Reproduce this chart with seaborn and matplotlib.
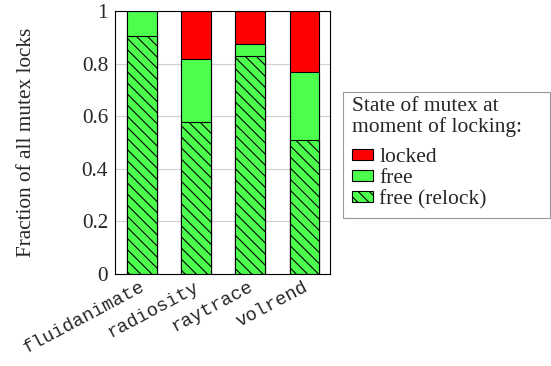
import matplotlib
matplotlib.use("Agg")
import matplotlib.pyplot as plt
import matplotlib.transforms as mtransforms
import seaborn as sns
import numpy as np
import pandas as pd
from matplotlib.patches import Patch, Rectangle

benchmarks = ["fluidanimate", "radiosity", "raytrace", "volrend"]
relock = [0.905, 0.577, 0.830, 0.508]
free = [0.095, 0.240, 0.046, 0.260]
locked = [0.0, 0.183, 0.124, 0.232]

RED = "#ff0000"
GREEN = "#4dff4d"
FS = 15.3

sns.set_style("white")
plt.rcParams["font.family"] = ["Liberation Serif", "DejaVu Serif"]
plt.rcParams["hatch.linewidth"] = 0.8

df = pd.DataFrame({"bench": benchmarks,
                   "relock": relock,
                   "free": free,
                   "locked": locked})
df["top_free"] = df["relock"] + df["free"]
df["top_locked"] = df["top_free"] + df["locked"]

fig = plt.figure(figsize=(5.51, 3.66), dpi=100)
ax = fig.add_axes([115 / 551, 1 - 274 / 366, 215 / 551, 263 / 366])

# stacked bars drawn back to front
sns.barplot(data=df, x="bench", y="top_locked", color=RED, width=0.55,
            edgecolor="black", linewidth=0.8, saturation=1, ax=ax)
sns.barplot(data=df, x="bench", y="top_free", color=GREEN, width=0.55,
            edgecolor="black", linewidth=0.8, saturation=1, ax=ax)
n = len(ax.patches)
sns.barplot(data=df, x="bench", y="relock", color=GREEN, width=0.55,
            edgecolor="black", linewidth=0.8, saturation=1, ax=ax)
for p in ax.patches[n:]:
    p.set_hatch("\\\\\\")

ax.set_ylim(0, 1)
ax.set_xlim(-0.49, 3.47)
ax.set_yticks([0, 0.2, 0.4, 0.6, 0.8, 1])
ax.set_yticklabels(["0", "0.2", "0.4", "0.6", "0.8", "1"], fontsize=FS)
ax.yaxis.grid(True, color="#d0d0d0", linewidth=0.8)
ax.set_axisbelow(True)
ax.tick_params(axis="y", length=0, pad=5)
ax.tick_params(axis="x", length=0, pad=3)
ax.set_xticks(range(len(benchmarks)))
ax.set_xticklabels(benchmarks, rotation=28, ha="right", rotation_mode="anchor",
                   family="Liberation Mono", fontsize=13.5)
shift = mtransforms.ScaledTranslation(-2 / 100, 0, fig.dpi_scale_trans)
for lab in ax.get_xticklabels():
    lab.set_transform(lab.get_transform() + shift)
ax.set_xlabel("")
ax.set_ylabel("Fraction of all mutex locks", fontsize=FS, labelpad=33)
for s in ax.spines.values():
    s.set_color("black")
    s.set_linewidth(0.8)

# legend: title as text, entries below, frame reaching the figure edge
fig.text(352 / 551, 1 - 97 / 366, "State of mutex at\nmoment of locking:",
         ha="left", va="top", fontsize=15.5, linespacing=1.1)
handles = [Patch(facecolor=RED, edgecolor="black", linewidth=0.8, label="locked"),
           Patch(facecolor=GREEN, edgecolor="black", linewidth=0.8, label="free"),
           Patch(facecolor=GREEN, edgecolor="black", linewidth=0.8, hatch="\\\\\\",
                 label="free (relock)")]
leg = fig.legend(handles=handles, loc="upper left",
                 bbox_to_anchor=(346 / 551, 1 - 142 / 366),
                 borderaxespad=0, fontsize=15.5,
                 frameon=False, handlelength=0.95, handleheight=0.4,
                 handletextpad=0.3, labelspacing=0.08, borderpad=0.3)
fig.patches.append(Rectangle((343 / 551, 1 - 218 / 366), 207 / 551, 126 / 366,
                             transform=fig.transFigure, fill=False,
                             edgecolor="#999999", linewidth=0.8))

fig.savefig("out.png", dpi=100)
